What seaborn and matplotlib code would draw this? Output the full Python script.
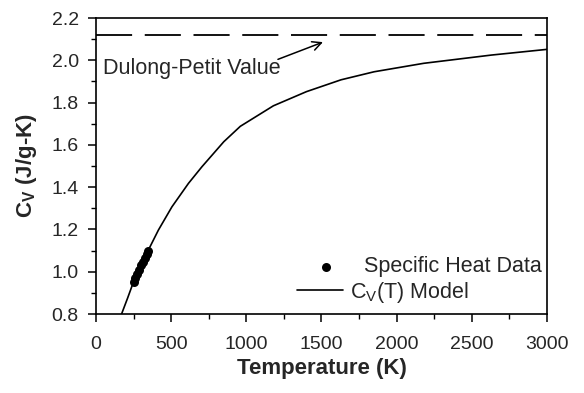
import matplotlib
matplotlib.use("Agg")
import matplotlib.pyplot as plt
import seaborn as sns
import pandas as pd
from matplotlib.ticker import MultipleLocator, FormatStrFormatter

# Model curve values
model_T = [170, 210, 250, 300, 350, 415, 505, 615, 705, 780, 850, 960, 1180,
           1400, 1630, 1850, 2180, 2630, 3000]
model_cv = [0.80, 0.875, 0.953, 1.03, 1.105, 1.197, 1.307, 1.418, 1.497, 1.558,
            1.615, 1.688, 1.785, 1.852, 1.908, 1.946, 1.986, 2.025, 2.052]

# Specific heat data points
data_T = [250, 262, 275, 288, 300, 312, 325, 338, 348]
data_cv = [0.953, 0.97, 0.99, 1.01, 1.03, 1.045, 1.065, 1.085, 1.10]

dulong_petit = 2.12
x_range = [0, 3000]

sns.set_style("ticks")
plt.rcParams['font.family'] = ['Liberation Sans', 'DejaVu Sans']
plt.rcParams['mathtext.fontset'] = 'custom'
plt.rcParams['mathtext.rm'] = 'Liberation Sans'
plt.rcParams['mathtext.it'] = 'Liberation Sans'
plt.rcParams['mathtext.bf'] = 'Liberation Sans:bold'

fig = plt.figure(figsize=(5.84, 3.93), dpi=100)
ax = fig.add_axes([0.1644, 0.201, 0.7722, 0.753])

df_model = pd.DataFrame({"T": model_T, "cv": model_cv})
df_data = pd.DataFrame({"T": data_T, "cv": data_cv})

sns.lineplot(data=df_model, x="T", y="cv", ax=ax, color="black", linewidth=1.2,
             label="C$_\\mathrm{V}$(T) Model", sort=True)
sns.scatterplot(data=df_data, x="T", y="cv", ax=ax, color="black", s=42,
                edgecolor="black", linewidth=0, label="Specific Heat Data", zorder=3)
dl, = ax.plot(x_range, [dulong_petit, dulong_petit], color="black", linewidth=1.3)
dl.set_dashes([20, 7])

ax.annotate("", xy=(1527, 2.091), xytext=(1193, 2.0),
            arrowprops=dict(arrowstyle="->", color="black", lw=1.1,
                            mutation_scale=16))
ax.text(47, 1.963, "Dulong-Petit Value", fontsize=15.5, va="center", ha="left")

ax.set_xlim(0, 3000)
ax.set_ylim(0.8, 2.2)
ax.xaxis.set_major_locator(MultipleLocator(500))
ax.xaxis.set_minor_locator(MultipleLocator(250))
ax.yaxis.set_major_locator(MultipleLocator(0.2))
ax.yaxis.set_minor_locator(MultipleLocator(0.1))
ax.yaxis.set_major_formatter(FormatStrFormatter('%.1f'))
ax.tick_params(which='major', length=5.5, width=1.1, direction='out', labelsize=14,
               color='black')
ax.tick_params(axis='x', which='major', pad=10)
ax.tick_params(axis='y', which='major', pad=7)
ax.tick_params(which='minor', length=3.5, width=1.0, direction='out', color='black')
for s in ax.spines.values():
    s.set_linewidth(1.2)
    s.set_color('black')

ax.set_xlabel("Temperature (K)", fontsize=16, fontweight='bold')
ax.set_ylabel("$\\mathbf{C}_{\\mathbf{V}}$ (J/g-K)", fontsize=16, fontweight='bold')
ax.xaxis.set_label_coords(0.5, -0.15)
ax.yaxis.set_label_coords(-0.126, 0.5)

handles, labels = ax.get_legend_handles_labels()
h_data = handles[labels.index("Specific Heat Data")]
h_model = handles[labels.index("C$_\\mathrm{V}$(T) Model")]

leg1 = ax.legend([h_data], ["Specific Heat Data"], loc='center right',
                 bbox_to_anchor=(0.989, 0.159), frameon=False, fontsize=15.5,
                 handlelength=2.14, handletextpad=0.7, borderpad=0,
                 borderaxespad=0, scatterpoints=1)
ax.add_artist(leg1)
ax.legend([h_model], ["C$_\\mathrm{V}$(T) Model"], loc='center left',
          bbox_to_anchor=(0.4457, 0.074), frameon=False, fontsize=15.5,
          handlelength=2.14, handletextpad=0.33, borderpad=0, borderaxespad=0)

fig.savefig("out.png", dpi=100)
